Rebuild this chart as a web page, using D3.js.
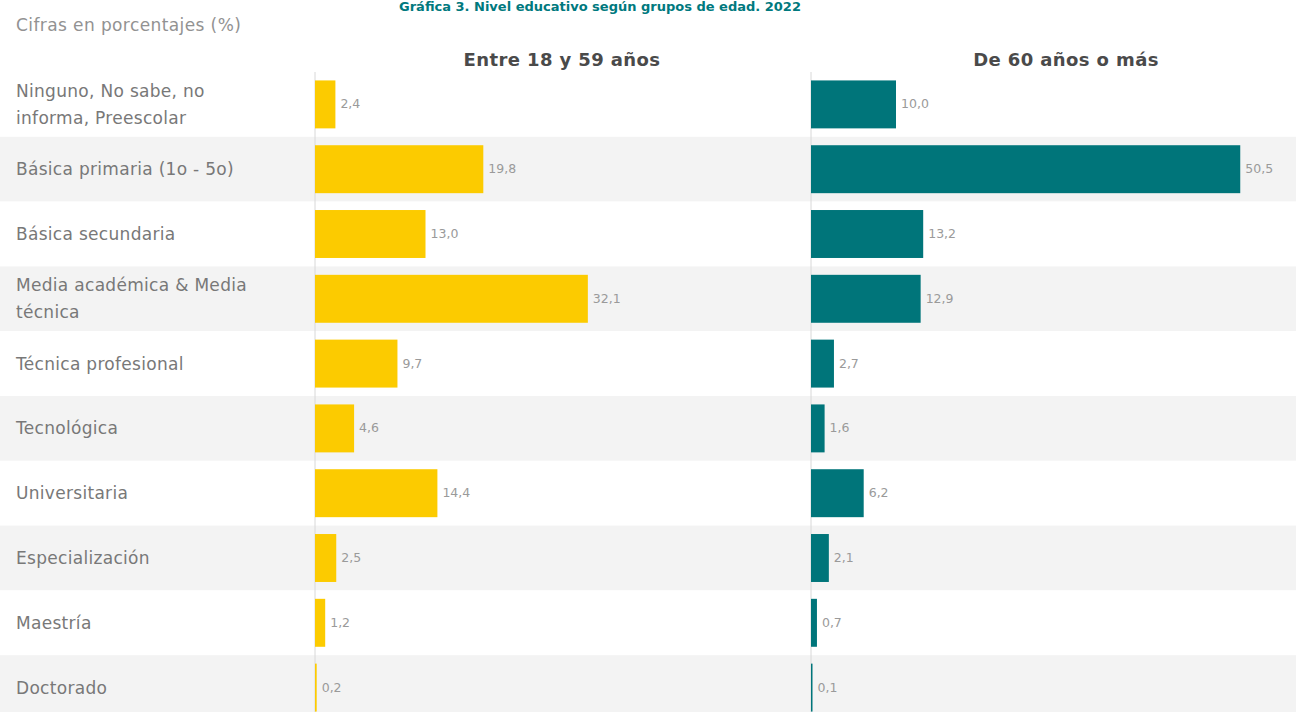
<!DOCTYPE html>
<html>
<head>
<meta charset="utf-8">
<script src="https://cdn.jsdelivr.net/npm/d3@7"></script>
<style>
  html, body { margin: 0; padding: 0; background: #fff; }
  svg { display: block; }
</style>
</head>
<body>
<svg id="chart" width="1296" height="712"></svg>
<script>
const categories = [
  ["Ninguno, No sabe, no", "informa, Preescolar"],
  ["Básica primaria (1o - 5o)"],
  ["Básica secundaria"],
  ["Media académica & Media", "técnica"],
  ["Técnica profesional"],
  ["Tecnológica"],
  ["Universitaria"],
  ["Especialización"],
  ["Maestría"],
  ["Doctorado"]
];
const values18to59 = [2.4, 19.8, 13.0, 32.1, 9.7, 4.6, 14.4, 2.5, 1.2, 0.2];
const values60plus = [10.0, 50.5, 13.2, 12.9, 2.7, 1.6, 6.2, 2.1, 0.7, 0.1];
const panelTitles = ["Entre 18 y 59 años", "De 60 años o más"];
const subtitle = "Cifras en porcentajes (%)";
const chartTitle = "Gráfica 3. Nivel educativo según grupos de edad. 2022";

const svg = d3.select("#chart");
const W = 1296;
const font = "'DejaVu Sans', sans-serif";
const fmt = v => d3.format(".1f")(v).replace(".", ",");

const y = d3.scaleBand()
  .domain(d3.range(categories.length))
  .range([72, 72 + 64.8 * categories.length])
  .paddingInner(0.26).paddingOuter(0.13);
const step = y.step();

// row backgrounds
svg.append("g").selectAll("rect")
  .data(d3.range(categories.length))
  .join("rect")
  .attr("x", 0).attr("width", W)
  .attr("y", i => 72 + i * step)
  .attr("height", step)
  .attr("fill", i => i % 2 === 1 ? "#f3f3f3" : "#ffffff");

// title
svg.append("text")
  .attr("x", 600).attr("y", 11)
  .attr("text-anchor", "middle")
  .attr("font-family", font).attr("font-weight", 700)
  .attr("font-size", 13).attr("fill", "#00797e")
  .text(chartTitle);

svg.append("text")
  .attr("x", 16).attr("y", 31)
  .attr("font-family", font).attr("font-size", 17)
  .attr("letter-spacing", 0.4)
  .attr("fill", "#929292")
  .text(subtitle);

// category labels
const lab = svg.append("g").selectAll("text")
  .data(categories)
  .join("text")
  .attr("font-family", font).attr("font-size", 17)
  .attr("letter-spacing", 0.3)
  .attr("fill", "#787878");
lab.each(function(d, i) {
  const t = d3.select(this);
  const cy = y(i) + y.bandwidth() / 2;
  const lh = 27;
  d.forEach((line, k) => {
    t.append("tspan")
      .attr("x", 16)
      .attr("y", cy + 6 + (k - (d.length - 1) / 2) * lh)
      .text(line);
  });
});

const panels = [
  { x0: 315, values: values18to59, color: "#fccb00", title: panelTitles[0], tx: 562 },
  { x0: 811, values: values60plus, color: "#00757a", title: panelTitles[1], tx: 1066 }
];

panels.forEach(p => {
  const x = d3.scaleLinear().domain([0, 50.5]).range([p.x0, p.x0 + 429.25]);
  const g = svg.append("g");
  g.append("text")
    .attr("x", p.tx).attr("y", 66)
    .attr("text-anchor", "middle")
    .attr("font-family", font).attr("font-weight", 700)
    .attr("font-size", 18).attr("letter-spacing", 0.4)
    .attr("fill", "#4a4a4a")
    .text(p.title);
  g.append("line")
    .attr("x1", x(0)).attr("x2", x(0))
    .attr("y1", 72).attr("y2", 712)
    .attr("stroke", "#d8d8d8").attr("stroke-width", 1);
  g.selectAll("rect.bar")
    .data(p.values)
    .join("rect")
    .attr("class", "bar")
    .attr("x", x(0))
    .attr("y", (d, i) => y(i))
    .attr("width", d => Math.max(1.5, x(d) - x(0)))
    .attr("height", y.bandwidth())
    .attr("fill", p.color);
  g.selectAll("text.val")
    .data(p.values)
    .join("text")
    .attr("class", "val")
    .attr("x", d => Math.max(x(d), x(0) + 1.5) + 5)
    .attr("y", (d, i) => y(i) + y.bandwidth() / 2 + 4)
    .attr("font-family", font).attr("font-size", 12.5)
    .attr("fill", "#9a9a9a")
    .text(d => fmt(d));
});
</script>
</body>
</html>
